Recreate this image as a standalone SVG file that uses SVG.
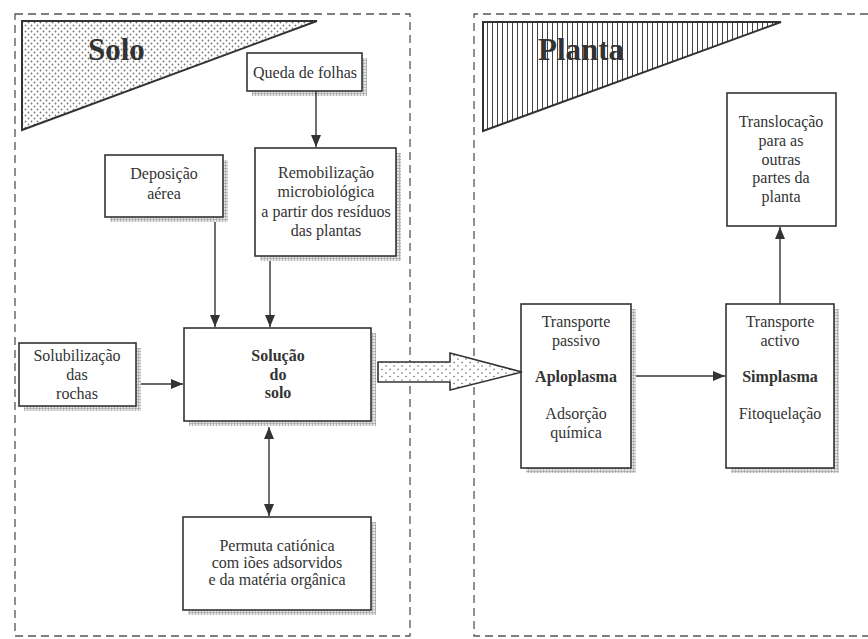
<svg xmlns="http://www.w3.org/2000/svg" width="868" height="639" viewBox="0 0 868 639">
<defs>
<pattern id="dots" width="6" height="6" patternUnits="userSpaceOnUse">
<rect width="6" height="6" fill="#fff"/>
<circle cx="1.5" cy="1.5" r="0.9" fill="#777"/>
<circle cx="4.5" cy="4.5" r="0.9" fill="#777"/>
</pattern>
<pattern id="dots2" width="8" height="7" patternUnits="userSpaceOnUse">
<rect width="8" height="7" fill="#fff"/>
<circle cx="2" cy="2" r="0.8" fill="#666"/>
<circle cx="6" cy="5.5" r="0.8" fill="#666"/>
</pattern>
<pattern id="vlines" width="5" height="5" patternUnits="userSpaceOnUse">
<rect width="5" height="5" fill="#fff"/>
<line x1="2.5" y1="0" x2="2.5" y2="5" stroke="#444" stroke-width="1"/>
</pattern>
<pattern id="hatch" width="3" height="3" patternUnits="userSpaceOnUse">
<rect width="3" height="3" fill="#e6e6e6"/>
<path d="M0 0.5H3M0.5 0V3" stroke="#aaa" stroke-width="0.8"/>
</pattern>
<marker id="ah" viewBox="0 0 12 10" refX="12" refY="5" markerWidth="12" markerHeight="10" markerUnits="userSpaceOnUse" orient="auto-start-reverse">
<path d="M0 0L12 5L0 10Z" fill="#333"/>
</marker>
</defs>
<style>
.box{fill:#fff;stroke:#333;stroke-width:1.6}
.sh{fill:url(#hatch)}
.t{font-family:"Liberation Serif","Times New Roman",serif;font-size:16px;fill:#333;text-anchor:middle}
.b{font-weight:bold}
.dash{fill:none;stroke:#555;stroke-width:1.3;stroke-dasharray:8 5}
.conn{fill:none;stroke:#333;stroke-width:1.4}
.title{font-family:"Liberation Serif","Times New Roman",serif;font-size:31px;font-weight:bold;fill:#333}
</style>
<rect width="868" height="639" fill="#fff"/>

<g id="regions">
<rect class="dash" x="15" y="14" width="395" height="622"/>
<path class="dash" d="M868 14H474V636H868"/>
</g>

<g id="solo-banner">
<polygon points="22,21 317,21 22,130" fill="url(#dots)" stroke="#333" stroke-width="2"/>
<text class="title" x="88" y="60">Solo</text>
</g>
<g id="planta-banner">
<polygon points="483,22 781,22 483,131" fill="url(#vlines)" stroke="#333" stroke-width="2"/>
<text class="title" x="538" y="60">Planta</text>
</g>

<g id="queda">
<rect class="sh" x="252" y="58" width="115" height="38"/>
<rect class="box" x="247" y="53" width="115" height="38"/>
<text class="t" x="305" y="78">Queda de folhas</text>
</g>
<g id="deposicao">
<rect class="sh" x="110" y="160" width="118" height="62"/>
<rect class="box" x="105" y="155" width="118" height="62"/>
<text class="t" x="164" y="179">Deposição</text>
<text class="t" x="164" y="199">aérea</text>
</g>
<g id="remobilizacao">
<rect class="sh" x="260" y="153" width="141" height="108"/>
<rect class="box" x="255" y="148" width="141" height="108"/>
<text class="t" x="326" y="178">Remobilização</text>
<text class="t" x="326" y="197">microbiológica</text>
<text class="t" x="326" y="217">a partir dos resíduos</text>
<text class="t" x="326" y="236">das plantas</text>
</g>
<g id="solubilizacao">
<rect class="sh" x="24" y="348" width="117" height="63"/>
<rect class="box" x="19" y="343" width="117" height="63"/>
<text class="t" x="77" y="361">Solubilização</text>
<text class="t" x="77" y="380">das</text>
<text class="t" x="77" y="399">rochas</text>
</g>
<g id="solucao">
<rect class="sh" x="189" y="333" width="187" height="93"/>
<rect class="box" x="184" y="328" width="187" height="93"/>
<text class="t b" x="278" y="361">Solução</text>
<text class="t b" x="278" y="380">do</text>
<text class="t b" x="278" y="398">solo</text>
</g>
<g id="permuta">
<rect class="sh" x="188" y="522" width="188" height="93"/>
<rect class="box" x="183" y="517" width="188" height="93"/>
<text class="t" x="277" y="551">Permuta catiónica</text>
<text class="t" x="277" y="568">com iões adsorvidos</text>
<text class="t" x="277" y="585">e da matéria orgânica</text>
</g>
<g id="aploplasma">
<rect class="sh" x="526" y="309" width="110" height="164"/>
<rect class="box" x="521" y="304" width="110" height="164"/>
<text class="t" x="576" y="327">Transporte</text>
<text class="t" x="576" y="346">passivo</text>
<text class="t b" x="576" y="382">Aploplasma</text>
<text class="t" x="576" y="419">Adsorção</text>
<text class="t" x="576" y="438">química</text>
</g>
<g id="simplasma">
<rect class="sh" x="731" y="309" width="108" height="164"/>
<rect class="box" x="726" y="304" width="108" height="164"/>
<text class="t" x="780" y="327">Transporte</text>
<text class="t" x="780" y="346">activo</text>
<text class="t b" x="780" y="382">Simplasma</text>
<text class="t" x="780" y="419">Fitoquelação</text>
</g>
<g id="translocacao">
<rect class="box" x="727" y="93" width="109" height="133"/>
<text class="t" x="781" y="127">Translocação</text>
<text class="t" x="781" y="146">para as</text>
<text class="t" x="781" y="165">outras</text>
<text class="t" x="781" y="183">partes da</text>
<text class="t" x="781" y="202">planta</text>
</g>

<g id="connectors">
<line class="conn" x1="316" y1="91" x2="316" y2="147" marker-end="url(#ah)"/>
<line class="conn" x1="215" y1="222" x2="215" y2="327" marker-end="url(#ah)"/>
<line class="conn" x1="270" y1="261" x2="270" y2="327" marker-end="url(#ah)"/>
<line class="conn" x1="141" y1="384" x2="183" y2="384" marker-end="url(#ah)"/>
<line class="conn" x1="269" y1="427" x2="269" y2="516" marker-start="url(#ah)" marker-end="url(#ah)"/>
<line class="conn" x1="636" y1="376" x2="725" y2="376" marker-end="url(#ah)"/>
<line class="conn" x1="780" y1="304" x2="780" y2="227" marker-end="url(#ah)"/>
<polygon points="378,362 450,362 450,353 522,372 450,390 450,382 378,382" fill="url(#dots2)" stroke="#333" stroke-width="1.6"/>
</g>
</svg>
